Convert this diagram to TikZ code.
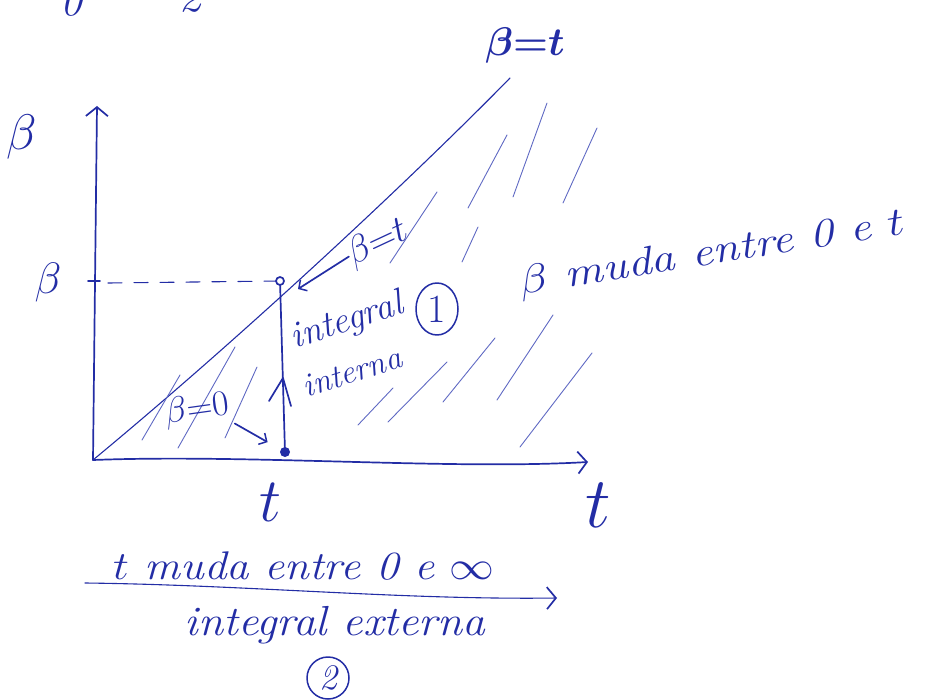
\RequirePackage{fix-cm}
\documentclass[tikz,border=0pt]{standalone}
\usetikzlibrary{arrows.meta,shapes.geometric}
\definecolor{ink}{RGB}{35,45,165}
\definecolor{inkl}{RGB}{95,105,195}
\newcommand\myfs[1]{\fontsize{#1}{#1}\selectfont}
\begin{document}
\begin{tikzpicture}[x=1pt,y=-1pt,line cap=round,line join=round,
  pen/.style={draw=ink,line width=1.7pt},
  finepen/.style={draw=ink,line width=1.1pt},
  hatch/.style={draw=inkl,line width=0.9pt},
  bigtip/.style={-{Straight Barb[length=9pt,width=22pt,line width=1.7pt]}},
  smalltip/.style={-{Straight Barb[length=6pt,width=13pt,line width=1.5pt]}},
  lbl/.style={text=ink,inner sep=0pt}]
\useasboundingbox (0,0) rectangle (933,700);
\clip (0,0) rectangle (933,700);

% fragments at the top edge
\node[lbl,anchor=south,font=\myfs{44}\itshape] (frag1) at (71,17) {0};
\node[lbl,anchor=south,font=\myfs{44}\itshape] (frag2) at (190,13) {2};

% axes
\coordinate (O) at (93,460);
\coordinate (Ytip) at (97,106);
\coordinate (Xtip) at (588,462);
\draw[pen,bigtip] (O) -- (Ytip);
\draw[pen,bigtip] (O) .. controls (250,454) and (450,470) .. (Xtip);
\node[lbl,font=\myfs{50}] (by) at (22,137) {$\beta$};
\node[lbl,font=\myfs{72}] (tx) at (598,505) {$t$};

% diagonal beta = t
\coordinate (D) at (510,78);
\draw[finepen] (O) .. controls (250,330) and (420,170) .. (D);
\node[lbl,font=\myfs{40}\boldmath] (bt) at (525,46) {$\beta{=}t$};

% hatching
\foreach \a/\b/\c/\d in {142/440/180/375,178/448/235/347,225/438/257/367,
  358/425/393/388,388/422/447/362,443/402/495/338,497/400/553/315,
  520/447/592/353,390/263/437/192,468/208/507/135,462/262/478/227,
  513/197/547/103,563/203/597/128}
  \draw[hatch] (\a,\b) -- (\c,\d);

% points and inner integral line
\coordinate (P) at (280,281);
\coordinate (Q) at (285,452);
\draw[pen] (Q) -- (P);
\draw[pen] (269,401) -- (283,378) -- (291,406);
\draw[finepen,dash pattern=on 14pt off 12pt] (108,283) -- (P);
\draw[pen] (88,281) -- (100,281);
\draw[pen,fill=white] (P) circle (4);
\fill[ink] (Q) circle (5);
\node[lbl,font=\myfs{44}] (by2) at (48,282) {$\beta$};
\node[lbl,font=\myfs{62}] (tq) at (270,502) {$t$};

% label beta = t with arrow
\node[lbl,font=\myfs{38},rotate=25] (lbt) at (378,243) {$\beta{=}t$};
\draw[pen,smalltip] (lbt.west) -- ([shift={(18pt,-8pt)}]P);

% label beta = 0 with arrow
\node[lbl,font=\myfs{36},rotate=8] (b0) at (197,410) {$\beta{=}0$};
\draw[pen,smalltip,shorten >=20pt,shorten <=4pt] (b0.south east) -- (Q);

% integral interna
\node[lbl,font=\myfs{37}\itshape,rotate=18] (ii1) at (347,322) {integral};
\node[lbl,font=\myfs{33}\itshape,rotate=18] (ii2) at (352,372) {interna};
\node[lbl,draw=ink,line width=1.5pt,ellipse,minimum width=42pt,minimum height=52pt,font=\myfs{40}] (c1) at (437,309) {1};

% beta muda entre 0 e t
\node[lbl,font=\myfs{40}\itshape,rotate=9] (bm) at (712,254) {\scalebox{1.2}[1]{$\beta$ muda entre 0 e $t$}};

% outer integral
\coordinate (A1) at (85,583);
\coordinate (A2) at (557,598);
\draw[finepen,bigtip] (A1) .. controls (250,585) and (400,600) .. (A2);
\node[lbl,font=\myfs{40}\itshape] (tm) at (304,566) {\scalebox{1.12}[1]{$t$ muda entre 0 e $\infty$}};
\node[lbl,font=\myfs{42}\itshape] (ie) at (335,625) {\scalebox{1.08}[1]{integral externa}};
\node[lbl,draw=ink,line width=1.5pt,circle,minimum size=42pt,font=\myfs{36}\itshape] (c2) at (328,678) {2};
\end{tikzpicture}
\end{document}
